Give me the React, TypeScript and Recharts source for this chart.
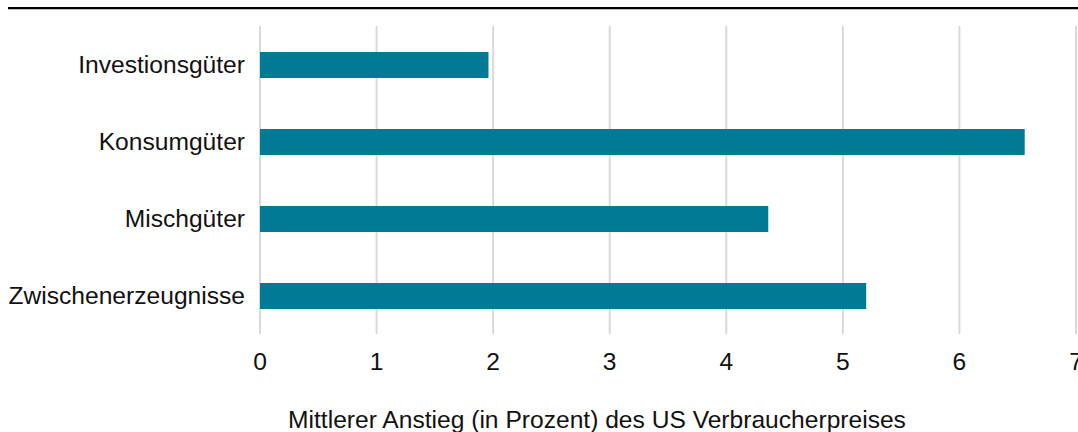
import { BarChart, Bar, XAxis, YAxis, CartesianGrid } from 'recharts';

const categories = ['Investionsgüter', 'Konsumgüter', 'Mischgüter', 'Zwischenerzeugnisse'];
const values = [1.96, 6.56, 4.36, 5.2];
const xTicks = [0, 1, 2, 3, 4, 5, 6, 7];
const axisTitle = 'Mittlerer Anstieg (in Prozent) des US Verbraucherpreises';

const data = categories.map((name, i) => ({ name, value: values[i] }));

const font = '"Liberation Sans", Arial, sans-serif';

const AxisTitle = () => (
  <text x={597} y={428} textAnchor="middle" fontSize={24.6} fontFamily={font} fill="#111">
    {axisTitle}
  </text>
);

export default function App() {
  return (
    <div style={{ position: 'absolute', left: 0, top: 0, width: 1078, height: 432, background: '#fff' }}>
      <div style={{ position: 'absolute', left: 8, top: 7, width: 1070, height: 2, background: '#000' }} />
      <div style={{ position: 'absolute', left: 8, top: 9, width: 1070, height: 1, background: '#bbb' }} />
      <BarChart
        width={1078}
        height={432}
        layout="vertical"
        data={data}
        margin={{ top: 26, right: 2, bottom: 58, left: 0 }}
        barCategoryGap={0}
      >
        <CartesianGrid horizontal={false} vertical stroke="#d9d9d9" strokeWidth={2} />
        <XAxis
          type="number"
          domain={[0, 7]}
          ticks={xTicks}
          interval={0}
          axisLine={false}
          tickLine={false}
          tickSize={0}
          tickMargin={19}
          height={40}
          tick={{ fontSize: 24.6, fontFamily: font, fill: '#111' }}
          label={<AxisTitle />}
        />
        <YAxis
          type="category"
          dataKey="name"
          width={260}
          axisLine={false}
          tickLine={false}
          tickSize={0}
          tickMargin={15}
          interval={0}
          tick={{ fontSize: 24.6, fontFamily: font, fill: '#111' }}
        />
        <Bar dataKey="value" fill="#017a96" barSize={26} isAnimationActive={false} />
      </BarChart>
    </div>
  );
}
